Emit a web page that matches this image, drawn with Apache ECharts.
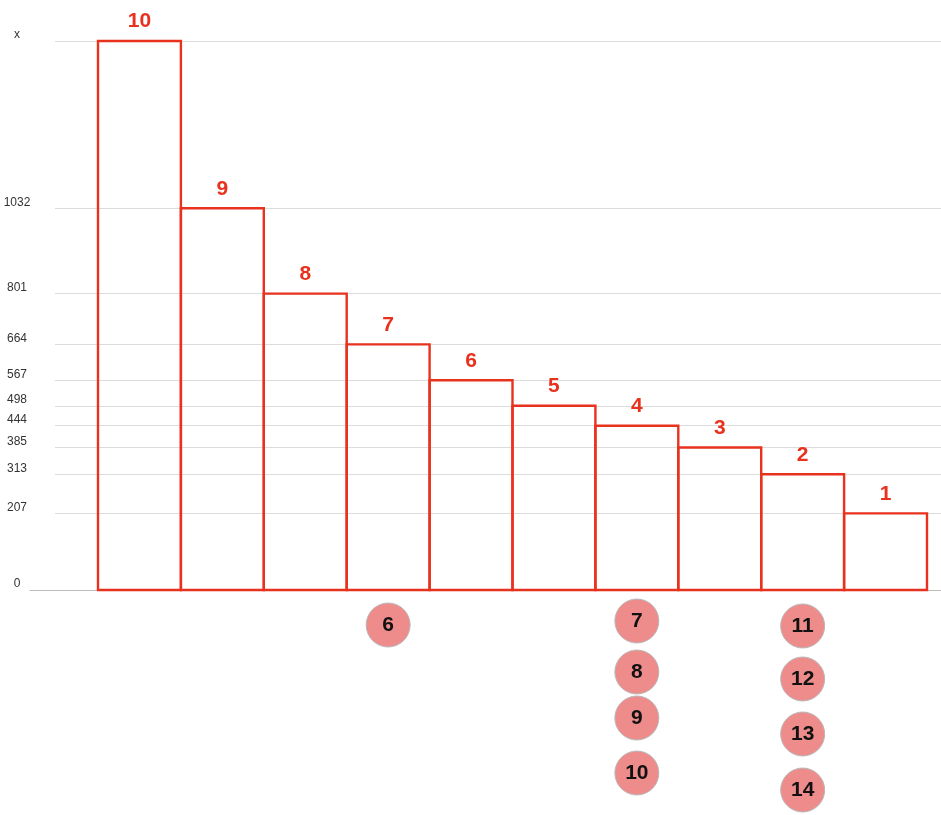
<!DOCTYPE html>
<html>
<head>
<meta charset="utf-8">
<script src="https://cdn.jsdelivr.net/npm/echarts@6/dist/echarts.min.js"></script>
<style>
html,body{margin:0;padding:0;background:#fff;}
#chart{width:941px;height:815px;}
</style>
</head>
<body>
<div id="chart"></div>
<script>
// Data
var barLabels = ['10', '9', '8', '7', '6', '5', '4', '3', '2', '1'];
var barValues = [1484, 1032, 801, 664, 567, 498, 444, 385, 313, 207];
var tickValues = [0, 207, 313, 385, 444, 498, 567, 664, 801, 1032, 1484];
var topTickText = 'x';
// circles below bars: bar index, vertical offset below baseline, label
var circleBars = [3, 6, 6, 6, 6, 8, 8, 8, 8];
var circleOffsets = [35, 31, 82, 128, 183, 36, 89, 144, 200];
var circleTexts = ['6', '7', '8', '9', '10', '11', '12', '13', '14'];

var yMax = tickValues[tickValues.length - 1];
var RED = '#e8321e';
var FONT = 'Liberation Sans, Arial, sans-serif';

var circleData = circleBars.map(function (b, i) {
  return { value: [b, circleOffsets[i]], label: { formatter: circleTexts[i] } };
});

var chart = echarts.init(document.getElementById('chart'));
chart.setOption({
  animation: false,
  grid: [
    { left: 55, right: 0, top: 41, bottom: 225 },
    { left: 98, right: 14, top: 41, bottom: 225 },
    { left: 98, right: 14, top: 590, bottom: 0 },
    { left: 30, right: 0, top: 590, height: 0 }
  ],
  xAxis: [
    { gridIndex: 0, type: 'value', min: 0, max: 1, show: false },
    { gridIndex: 1, type: 'category', data: barLabels, show: false },
    { gridIndex: 2, type: 'category', data: barLabels, show: false },
    { gridIndex: 3, type: 'value', min: 0, max: 1, axisLine: { show: true, lineStyle: { color: '#bbb', width: 1 } }, axisTick: { show: false }, axisLabel: { show: false }, splitLine: { show: false } }
  ],
  yAxis: [
    {
      gridIndex: 0, type: 'value', min: 0, max: yMax,
      axisLine: { show: false }, axisTick: { show: false, customValues: tickValues },
      axisLabel: {
        customValues: tickValues, color: '#333', fontSize: 12, fontFamily: FONT,
        align: 'center', verticalAlign: 'bottom', margin: 38,
        formatter: function (v) { return v === yMax ? topTickText : String(v); }
      },
      splitLine: { show: true, lineStyle: { color: '#dcdcdc', width: 1 } }
    },
    { gridIndex: 1, type: 'value', min: 0, max: yMax, show: false },
    { gridIndex: 2, type: 'value', min: 0, max: 225, inverse: true, show: false },
    { gridIndex: 3, type: 'value', show: false }
  ],
  series: [
    {
      type: 'custom', xAxisIndex: 1, yAxisIndex: 1,
      data: barValues.map(function (v, i) { return [i, v]; }),
      encode: { x: 0, y: 1 },
      renderItem: function (params, api) {
        var top = api.coord([api.value(0), api.value(1)]);
        var base = api.coord([api.value(0), 0]);
        var w = api.size([1, 0])[0];
        var x0 = top[0] - w / 2;
        return {
          type: 'group',
          children: [
            {
              type: 'rect',
              shape: { x: x0, y: top[1], width: w, height: base[1] - top[1] },
              style: { fill: 'rgba(255,255,255,0)', stroke: RED, lineWidth: 2.4 }
            },
            {
              type: 'text',
              style: {
                x: top[0], y: top[1] - 9, text: barLabels[params.dataIndex],
                fill: RED, font: 'bold 21px ' + FONT,
                textAlign: 'center', textVerticalAlign: 'bottom'
              }
            }
          ]
        };
      }
    },
    {
      type: 'scatter', xAxisIndex: 2, yAxisIndex: 2, data: circleData,
      symbol: 'circle', symbolSize: 44,
      itemStyle: { color: '#ee8c8c', borderColor: '#b8b8b8', borderWidth: 1, opacity: 1 },
      label: {
        show: true, position: 'inside', color: '#111', fontSize: 21, fontWeight: 'bold',
        fontFamily: FONT
      }
    }
  ]
});
</script>
</body>
</html>
